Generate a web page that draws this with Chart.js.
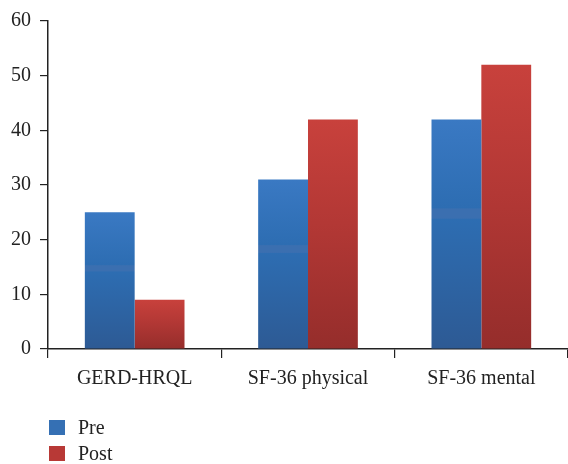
<!DOCTYPE html>
<html>
<head>
<meta charset="utf-8">
<script src="https://cdn.jsdelivr.net/npm/chart.js@4"></script>
<style>
  html, body { margin: 0; padding: 0; background: #fff; }
  #wrap { position: relative; width: 568px; height: 464px; }
  #legend { position: absolute; left: 49px; top: 414px; font-family: "Liberation Serif", "DejaVu Serif", serif; font-size: 20px; color: #222; }
  #legend div { display: flex; align-items: center; height: 26px; }
  #legend span.box { display: inline-block; width: 16px; height: 15px; margin-right: 13px; }
</style>
</head>
<body>
<div id="wrap">
  <canvas id="chart" width="568" height="464"></canvas>
  <div id="legend"></div>
</div>
<script>
  // data
  const categories = ["GERD-HRQL", "SF-36 physical", "SF-36 mental"];
  const preValues = [25, 31, 42];
  const postValues = [9, 42, 52];
  const yTicks = [0, 10, 20, 30, 40, 50, 60];

  const FONT = "'Liberation Serif', 'DejaVu Serif', serif";

  // per-bar vertical gradient, with the faint light band on blue bars
  function barFill(top, mid, bottom, band) {
    return ctx => {
      const chart = ctx.chart;
      const area = chart.chartArea;
      if (!area || ctx.parsed == null) return top;
      const y = chart.scales.y;
      const y0 = y.getPixelForValue(ctx.parsed.y);
      const y1 = y.getPixelForValue(0);
      const g = chart.ctx.createLinearGradient(0, y0, 0, y1);
      g.addColorStop(0, top);
      if (band) {
        g.addColorStop(0.385, mid);
        g.addColorStop(0.39, band);
        g.addColorStop(0.43, band);
        g.addColorStop(0.435, mid);
      } else {
        g.addColorStop(0.45, mid);
      }
      g.addColorStop(1, bottom);
      return g;
    };
  }

  const chart = new Chart(document.getElementById("chart"), {
    type: "bar",
    data: {
      labels: categories,
      datasets: [
        { label: "Pre", data: preValues, backgroundColor: barFill("#3a79c3", "#2d6db2", "#2d5a94", "#3b6fb0"), legendColor: "#3570b4" },
        { label: "Post", data: postValues, backgroundColor: barFill("#c8413c", "#b33835", "#952d2b", null), legendColor: "#b83936" }
      ]
    },
    options: {
      responsive: false,
      animation: false,
      layout: { padding: { top: 12, right: 0, bottom: 64, left: 0 } },
      plugins: { legend: { display: false }, tooltip: { enabled: false } },
      datasets: { bar: { categoryPercentage: 0.575, barPercentage: 1, borderWidth: 0 } },
      scales: {
        x: {
          grid: { display: true, drawOnChartArea: false, offset: true, tickLength: 9, color: "#222", lineWidth: 1.2 },
          border: { display: true, color: "#222", width: 1.5 },
          ticks: { font: { family: FONT, size: 20 }, color: "#222", padding: 9 }
        },
        y: {
          min: 0, max: 60,
          afterBuildTicks: s => { s.ticks = yTicks.map(v => ({ value: v })); },
          afterFit: s => { s.width = 48; },
          grid: { display: true, drawOnChartArea: false, tickLength: 8, color: "#222", lineWidth: 1.2 },
          border: { display: true, color: "#222", width: 1.5 },
          ticks: { font: { family: FONT, size: 20 }, color: "#222", padding: 9 }
        }
      }
    }
  });

  // html legend, stacked vertically under the plot
  const legendEl = document.getElementById("legend");
  chart.data.datasets.forEach(ds => {
    const row = document.createElement("div");
    row.innerHTML = `<span class="box" style="background:${ds.legendColor}"></span>${ds.label}`;
    legendEl.appendChild(row);
  });
</script>
</body>
</html>
